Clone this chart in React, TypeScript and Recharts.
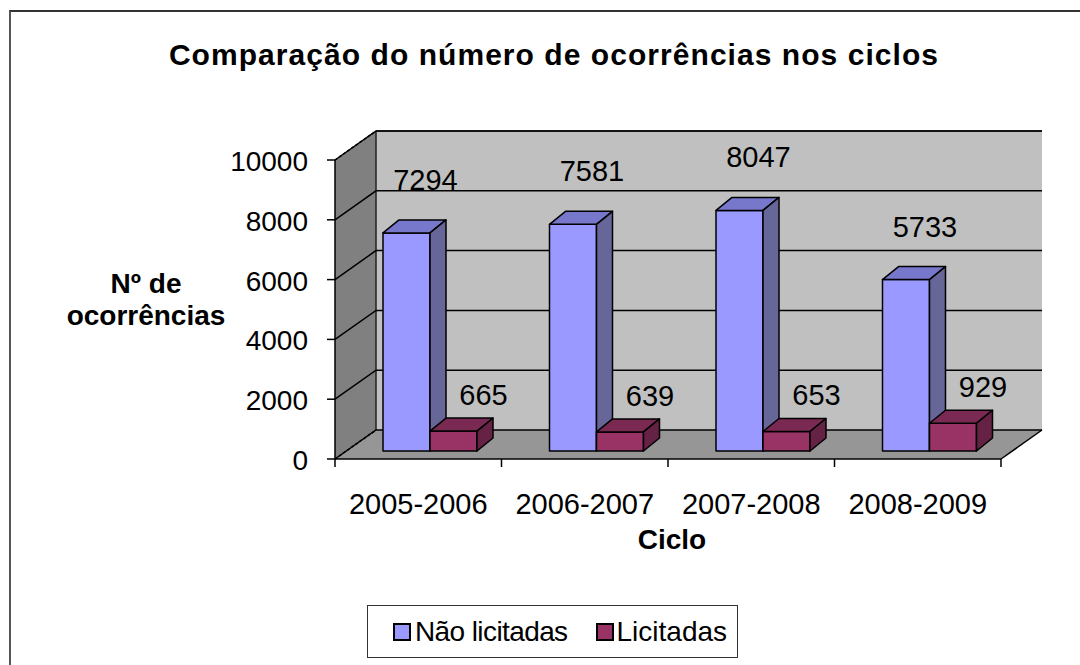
import { BarChart, Bar, XAxis, YAxis, CartesianGrid, ReferenceArea, LabelList } from 'recharts';

// Data
const cycles = ['2005-2006', '2006-2007', '2007-2008', '2008-2009'];
const naoLicitadas = [7294, 7581, 8047, 5733];
const licitadas = [665, 639, 653, 929];
const yTicks = [0, 2000, 4000, 6000, 8000, 10000];

const chartData = cycles.map((ciclo, i) => ({
  ciclo,
  naoLicitadas: naoLicitadas[i],
  licitadas: licitadas[i],
}));

// 3D projection offsets, relative to the plane of the bars' front faces
const FRONT = { dx: -12, dy: 8 };
const BACK = { dx: 29, dy: -21 };
const BAR_DEPTH = { dx: 16, dy: -13 };

const FONT = '"Liberation Sans", Arial, sans-serif';

const BLUE = { front: '#9999FF', top: '#7777CC', side: '#666699' };
const RED = { front: '#993366', top: '#7A2952', side: '#662244' };

const pts = (p: number[][]) => p.map((q) => q.join(',')).join(' ');

function Box3D(colors: typeof BLUE) {
  return (props: any) => {
    const { x, y, width: w, height: h } = props;
    if (w == null || h == null) return null;
    const { dx, dy } = BAR_DEPTH;
    return (
      <g stroke="#000" strokeWidth={1.5} strokeLinejoin="round">
        <rect x={x} y={y} width={w} height={h} fill={colors.front} />
        <polygon points={pts([[x, y], [x + dx, y + dy], [x + w + dx, y + dy], [x + w, y]])} fill={colors.top} />
        <polygon
          points={pts([[x + w, y], [x + w + dx, y + dy], [x + w + dx, y + h + dy], [x + w, y + h]])}
          fill={colors.side}
        />
      </g>
    );
  };
}

// walls, floor and front axes drawn around the plot area given by the reference area
function Frame(props: any) {
  const { x, y, width: w, height: h } = props;
  if (w == null) return null;
  const fl = [x + FRONT.dx, y + h + FRONT.dy];
  const fr = [x + w + FRONT.dx, y + h + FRONT.dy];
  const ftl = [x + FRONT.dx, y + FRONT.dy];
  const btl = [x + BACK.dx, y + BACK.dy];
  const btr = [x + w + BACK.dx, y + BACK.dy];
  const bbl = [x + BACK.dx, y + h + BACK.dy];
  const bbr = [x + w + BACK.dx, y + h + BACK.dy];
  const step = w / cycles.length;
  return (
    <g>
      <polygon points={pts([ftl, btl, bbl, fl])} fill="#808080" />
      <polygon points={pts([btl, btr, bbr, bbl])} fill="#C0C0C0" />
      <polygon points={pts([fl, fr, bbr, bbl])} fill="#969696" />
      <line x1={btl[0]} y1={btl[1]} x2={btr[0]} y2={btr[1]} stroke="#222" strokeWidth={1.5} />
      <line x1={btl[0]} y1={btl[1]} x2={bbl[0]} y2={bbl[1]} stroke="#222" strokeWidth={1.5} />
      <line x1={ftl[0]} y1={ftl[1]} x2={btl[0]} y2={btl[1]} stroke="#000" strokeWidth={1.5} strokeDasharray="3 2" />
      <line x1={fl[0]} y1={fl[1]} x2={bbl[0]} y2={bbl[1]} stroke="#000" strokeWidth={1.5} strokeDasharray="3 2" />
      <line x1={fr[0]} y1={fr[1]} x2={bbr[0]} y2={bbr[1]} stroke="#000" strokeWidth={1.5} />
      <line x1={fl[0]} y1={fl[1]} x2={fr[0]} y2={fr[1]} stroke="#000" strokeWidth={1.5} />
      <line x1={ftl[0]} y1={ftl[1]} x2={fl[0]} y2={fl[1]} stroke="#000" strokeWidth={1.5} />
      {[0, 1, 2, 3, 4].map((i) => (
        <line
          key={i}
          x1={fl[0] + i * step}
          y1={fl[1]}
          x2={fl[0] + i * step}
          y2={fl[1] + 8}
          stroke="#000"
          strokeWidth={1.5}
        />
      ))}
    </g>
  );
}

const gridLine = (p: any) => {
  const { x1, x2, y1, index } = p;
  return (
    <g key={`g-${index}`}>
      <polyline
        points={pts([
          [x1 + FRONT.dx, y1 + FRONT.dy],
          [x1 + BACK.dx, y1 + BACK.dy],
          [x2 + BACK.dx, y1 + BACK.dy],
        ])}
        fill="none"
        stroke="#000"
        strokeWidth={1.5}
      />
    </g>
  );
};

const YTick = (p: any) => {
  const X = p.x + FRONT.dx;
  const Y = p.y + FRONT.dy;
  return (
    <g>
      <line x1={X - 8} y1={Y} x2={X} y2={Y} stroke="#000" strokeWidth={1.5} />
      <text x={X - 27} y={Y + 11} textAnchor="end" fontSize={28} fontFamily={FONT} fill="#000">
        {p.payload.value}
      </text>
    </g>
  );
};

const XTick = (p: any) => (
  <text x={p.x + FRONT.dx} y={p.y + 63} textAnchor="middle" fontSize={29} fontFamily={FONT} fill="#000">
    {p.payload.value}
  </text>
);

const valueLabel = (dx: number, dy: number) => (p: any) => (
  <text
    x={p.x + p.width / 2 + dx}
    y={p.y + dy}
    textAnchor="middle"
    fontSize={29}
    fontFamily={FONT}
    fill="#000"
  >
    {p.value}
  </text>
);

export default function App() {
  return (
    <div
      style={{
        position: 'absolute',
        left: 0,
        top: 0,
        width: 1080,
        height: 665,
        overflow: 'hidden',
        background: '#fff',
        fontFamily: FONT,
      }}
    >
      <div
        style={{
          position: 'absolute',
          left: 9,
          top: 10,
          width: 1200,
          height: 800,
          borderLeft: '2px solid #555',
          borderTop: '2px solid #333',
        }}
      />
      <BarChart
        width={1080}
        height={665}
        data={chartData}
        margin={{ top: 152, right: 67, left: 287, bottom: 154 }}
        barGap={0}
        barSize={47}
        style={{ position: 'absolute', left: 0, top: 0 }}
      >
        <XAxis
          dataKey="ciclo"
          axisLine={false}
          tickLine={false}
          tickSize={0}
          tickMargin={0}
          height={60}
          tick={<XTick />}
          interval={0}
        />
        <YAxis
          domain={[0, 10000]}
          ticks={yTicks}
          axisLine={false}
          tickLine={false}
          tickSize={0}
          tickMargin={0}
          width={60}
          tick={<YTick />}
          interval={0}
        />
        <ReferenceArea y1={0} y2={10000} shape={<Frame />} fillOpacity={1} zIndex={-200} ifOverflow="visible" />
        <CartesianGrid vertical={false} horizontal={gridLine} />
        <Bar dataKey="naoLicitadas" name="Não licitadas" fill={BLUE.front} shape={Box3D(BLUE)} isAnimationActive={false}>
          <LabelList dataKey="naoLicitadas" content={valueLabel(19, -43)} />
        </Bar>
        <Bar dataKey="licitadas" name="Licitadas" fill={RED.front} shape={Box3D(RED)} isAnimationActive={false}>
          <LabelList dataKey="licitadas" content={valueLabel(30, -26)} />
        </Bar>
      </BarChart>

      <div
        style={{
          position: 'absolute',
          left: 0,
          top: 0,
          width: 1108,
          textAlign: 'center',
          fontSize: 30,
          fontWeight: 'bold',
          lineHeight: '34px',
          paddingTop: 38,
          letterSpacing: 1.05,
        }}
      >
        Comparação do número de ocorrências nos ciclos
      </div>
      <div
        style={{
          position: 'absolute',
          left: 46,
          top: 268,
          width: 200,
          textAlign: 'center',
          fontSize: 28,
          fontWeight: 'bold',
          lineHeight: '32px',
        }}
      >
        Nº de
        <br />
        ocorrências
      </div>
      <div
        style={{
          position: 'absolute',
          left: 572,
          top: 524,
          width: 200,
          textAlign: 'center',
          fontSize: 28,
          fontWeight: 'bold',
          lineHeight: '32px',
        }}
      >
        Ciclo
      </div>

      <div
        style={{
          position: 'absolute',
          left: 367,
          top: 605,
          width: 369,
          height: 51,
          border: '1.5px solid #333',
          display: 'flex',
          alignItems: 'center',
          fontSize: 28,
          whiteSpace: 'nowrap',
        }}
      >
        <span style={{ marginLeft: 25, width: 14, height: 14, border: '2px solid #000', background: BLUE.front, display: 'inline-block' }} />
        <span style={{ marginLeft: 4, letterSpacing: -0.6 }}>Não licitadas</span>
        <span style={{ marginLeft: 28, width: 14, height: 14, border: '2px solid #000', background: RED.front, display: 'inline-block' }} />
        <span style={{ marginLeft: 3 }}>Licitadas</span>
      </div>
    </div>
  );
}
